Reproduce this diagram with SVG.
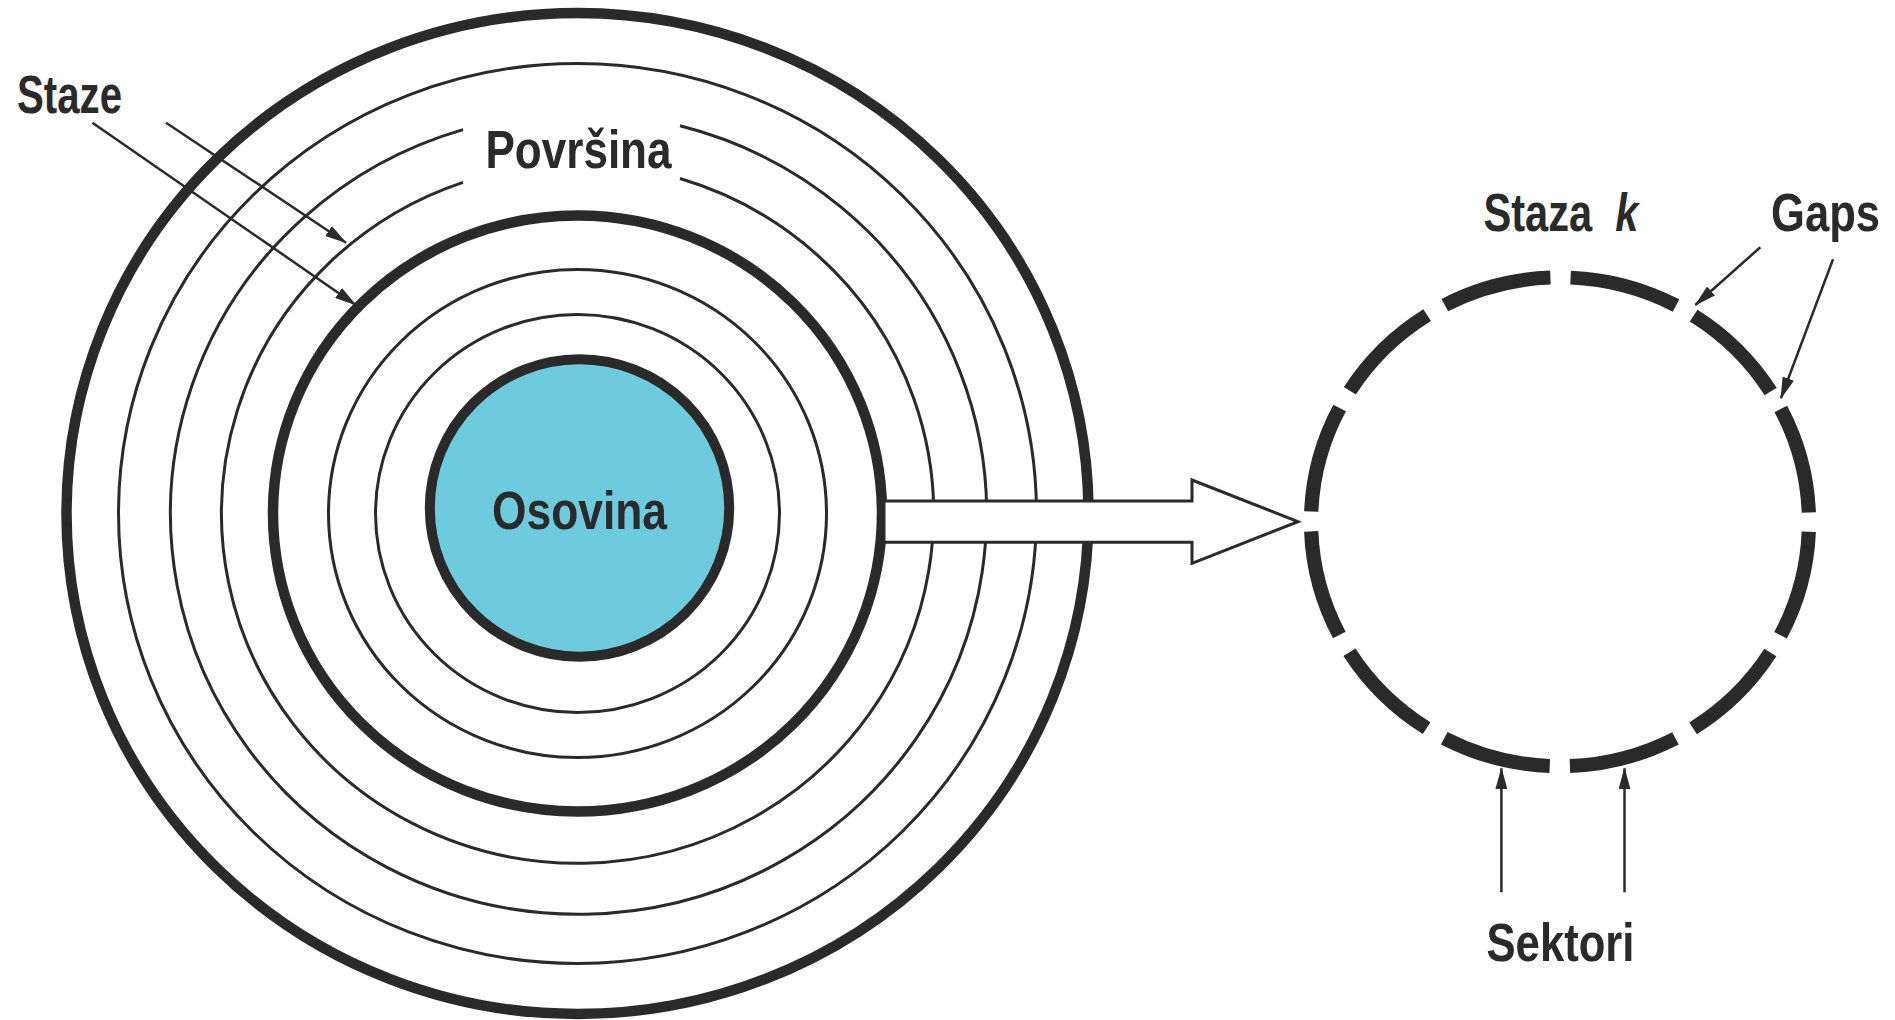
<svg xmlns="http://www.w3.org/2000/svg" width="1895" height="1020" viewBox="0 0 1895 1020">
<style>
.ring{fill:none;stroke:#2a2a2a;stroke-width:3}
.thick{fill:none;stroke:#2a2a2a;stroke-width:10.5}
.lbl{font-family:"Liberation Sans",Arial,sans-serif;font-weight:bold;font-size:54px;fill:#2a2a2a}
.ptr{stroke:#2a2a2a;stroke-width:2.5;fill:none;marker-end:url(#ah)}
</style>
<defs>
<marker id="ah" viewBox="0 0 22 12" refX="21" refY="6" markerWidth="22" markerHeight="12" orient="auto" markerUnits="userSpaceOnUse">
<path d="M0,0 L22,6 L0,12 Z" fill="#2a2a2a"/>
</marker>
</defs>
<rect width="1895" height="1020" fill="#ffffff"/>
<g id="platter">
<ellipse class="thick" cx="577.5" cy="513.5" rx="511" ry="500.5"/>
<ellipse class="ring" cx="577.5" cy="513.5" rx="459" ry="450"/>
<path class="ring" d="M463 129.6 A408 400.5 0 1 0 680 125.8"/>
<path class="ring" d="M463 182.3 A356 349.8 0 1 0 680 178.5"/>
<ellipse class="thick" cx="577.5" cy="513.5" rx="304.5" ry="298"/>
<ellipse class="ring" cx="577.5" cy="513.5" rx="249" ry="244"/>
<ellipse class="ring" cx="577.5" cy="513.5" rx="202" ry="199"/>
</g>
<g id="osovina">
<ellipse cx="579.5" cy="508" rx="149.7" ry="148.7" fill="#6ecbdd" stroke="#2a2a2a" stroke-width="10"/>
<text class="lbl" x="579.5" y="529" text-anchor="middle" textLength="175" lengthAdjust="spacingAndGlyphs">Osovina</text>
</g>
<g id="povrsina">
<text class="lbl" x="485.5" y="168.3" textLength="186" lengthAdjust="spacingAndGlyphs">Površina</text>
</g>
<g id="staze">
<text class="lbl" x="17" y="112.5" textLength="105" lengthAdjust="spacingAndGlyphs">Staze</text>
</g>
<g id="track">
<circle cx="0" cy="0" r="244.4" transform="translate(1560 521.8) scale(1.0188 1)" fill="none" stroke="#2a2a2a" stroke-width="14" stroke-dasharray="107.97 20" stroke-dashoffset="117.97"/>
</g>
<g id="staza-k">
<text class="lbl" x="1483.5" y="231" style="white-space:pre" textLength="155" lengthAdjust="spacingAndGlyphs">Staza  <tspan font-style="italic">k</tspan></text>
</g>
<g id="gaps">
<text class="lbl" x="1880" y="231" text-anchor="end" textLength="109" lengthAdjust="spacingAndGlyphs">Gaps</text>
</g>
<g id="sektori">
<text class="lbl" x="1486.5" y="960.7" textLength="148" lengthAdjust="spacingAndGlyphs">Sektori</text>
</g>
<g id="connectors">
<polygon points="884,501 1192,501 1192,480 1298,521.7 1192,563.3 1192,542.3 884,542.3" fill="#ffffff" stroke="#2a2a2a" stroke-width="3"/>
<line class="ptr" x1="166" y1="122.7" x2="346" y2="242.7"/>
<line class="ptr" x1="92.4" y1="122.7" x2="355.8" y2="305"/>
<line class="ptr" x1="1760.3" y1="247.3" x2="1695.3" y2="305"/>
<line class="ptr" x1="1833" y1="259.3" x2="1780.9" y2="398.3"/>
<line class="ptr" x1="1501.4" y1="892.3" x2="1501.4" y2="768.3"/>
<line class="ptr" x1="1624.5" y1="892.3" x2="1624.5" y2="768.3"/>
</g>
</svg>
